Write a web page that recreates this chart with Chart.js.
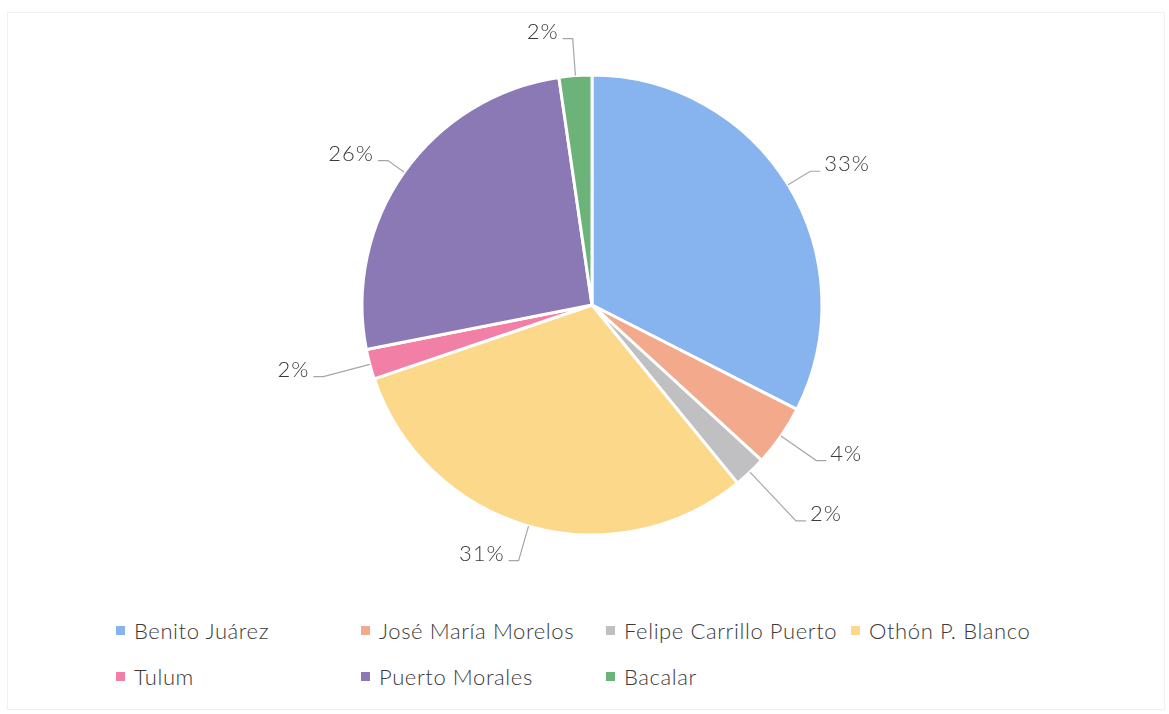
<!DOCTYPE html>
<html>
<head>
<meta charset="utf-8">
<script src="https://cdn.jsdelivr.net/npm/chart.js@4.4.1/dist/chart.umd.min.js"></script>
<style>
  html, body { margin: 0; padding: 0; background: #fff; }
  body { width: 1169px; height: 714px; position: relative; overflow: hidden; font-family: Lato, 'Noto Sans', sans-serif; }
  .frame { position: absolute; left: 7px; top: 12px; width: 1158px; height: 698px; border: 1px solid #f0f0f0; box-sizing: border-box; }
  .wrap { position: absolute; left: 0; top: 0; width: 1169px; height: 612px; }
  #legend { position: absolute; left: 116px; top: 618px; width: 1000px; display: grid; grid-template-columns: 245px 245px 245px 245px; row-gap: 22px; }
  .item { display: flex; align-items: center; font-size: 22px; font-weight: 300; letter-spacing: 0.6px; color: #3a3a3a; height: 24px; white-space: nowrap; }
  .sw { width: 9px; height: 9px; margin-right: 9px; flex: none; }
</style>
</head>
<body>
<div class="frame"></div>
<div class="wrap"><canvas id="pieChart"></canvas></div>
<div id="legend"></div>
<script>
// Municipios (clockwise from the top)
const municipios = ['Benito Juárez', 'José María Morelos', 'Felipe Carrillo Puerto', 'Othón P. Blanco', 'Tulum', 'Puerto Morales', 'Bacalar'];
const shares = [32.5, 4.3, 2.3, 30.7, 2.1, 25.8, 2.3];
const colores = ['#87b3ee', '#f3a98b', '#c0bfc2', '#fcd98a', '#f27fa6', '#8b79b6', '#6cb37a'];

// how far each leader line reaches past the pie edge
const leaderExt = [26, 43, 67, 36, 48, 20, 37];

const total = shares.reduce((a, b) => a + b, 0);

// outside labels with leader lines
const outsideLabels = {
  id: 'outsideLabels',
  afterDatasetsDraw(chart) {
    const ctx = chart.ctx;
    const arcs = chart.getDatasetMeta(0).data;
    ctx.save();
    ctx.font = '300 22px Lato, "Noto Sans", sans-serif';
    ctx.letterSpacing = '1px';
    ctx.fillStyle = '#3a3a3a';
    ctx.strokeStyle = '#a6a6a6';
    ctx.lineWidth = 1.2;
    ctx.textBaseline = 'middle';
    arcs.forEach((arc, i) => {
      const mid = (arc.startAngle + arc.endAngle) / 2;
      const r = arc.outerRadius;
      const x0 = arc.x + Math.cos(mid) * r;
      const y0 = arc.y + Math.sin(mid) * r;
      const x1 = arc.x + Math.cos(mid) * (r + leaderExt[i]);
      const y1 = arc.y + Math.sin(mid) * (r + leaderExt[i]);
      const right = x1 >= arc.x;
      const x2 = right ? x1 + 10 : x1 - 10;
      ctx.beginPath();
      ctx.moveTo(x0, y0);
      ctx.lineTo(x1, y1);
      ctx.lineTo(x2, y1);
      ctx.stroke();
      const txt = Math.round(shares[i] / total * 100) + '%';
      ctx.textAlign = right ? 'left' : 'right';
      ctx.fillText(txt, right ? x2 + 4 : x2 - 4, y1 - 7);
    });
    ctx.restore();
  }
};

new Chart(document.getElementById('pieChart'), {
  type: 'pie',
  data: {
    labels: municipios,
    datasets: [{
      data: shares,
      backgroundColor: colores,
      borderColor: '#ffffff',
      borderWidth: 3
    }]
  },
  options: {
    responsive: true,
    maintainAspectRatio: false,
    animation: false,
    radius: 230,
    layout: { padding: { left: 15, bottom: 2 } },
    plugins: {
      legend: { display: false },
      tooltip: { enabled: false }
    }
  },
  plugins: [outsideLabels]
});

// legend in a fixed four-column grid
const legendEl = document.getElementById('legend');
municipios.forEach((m, i) => {
  const it = document.createElement('div');
  it.className = 'item';
  it.innerHTML = '<span class="sw" style="background:' + colores[i] + '"></span>' + m;
  legendEl.appendChild(it);
});
</script>
</body>
</html>
